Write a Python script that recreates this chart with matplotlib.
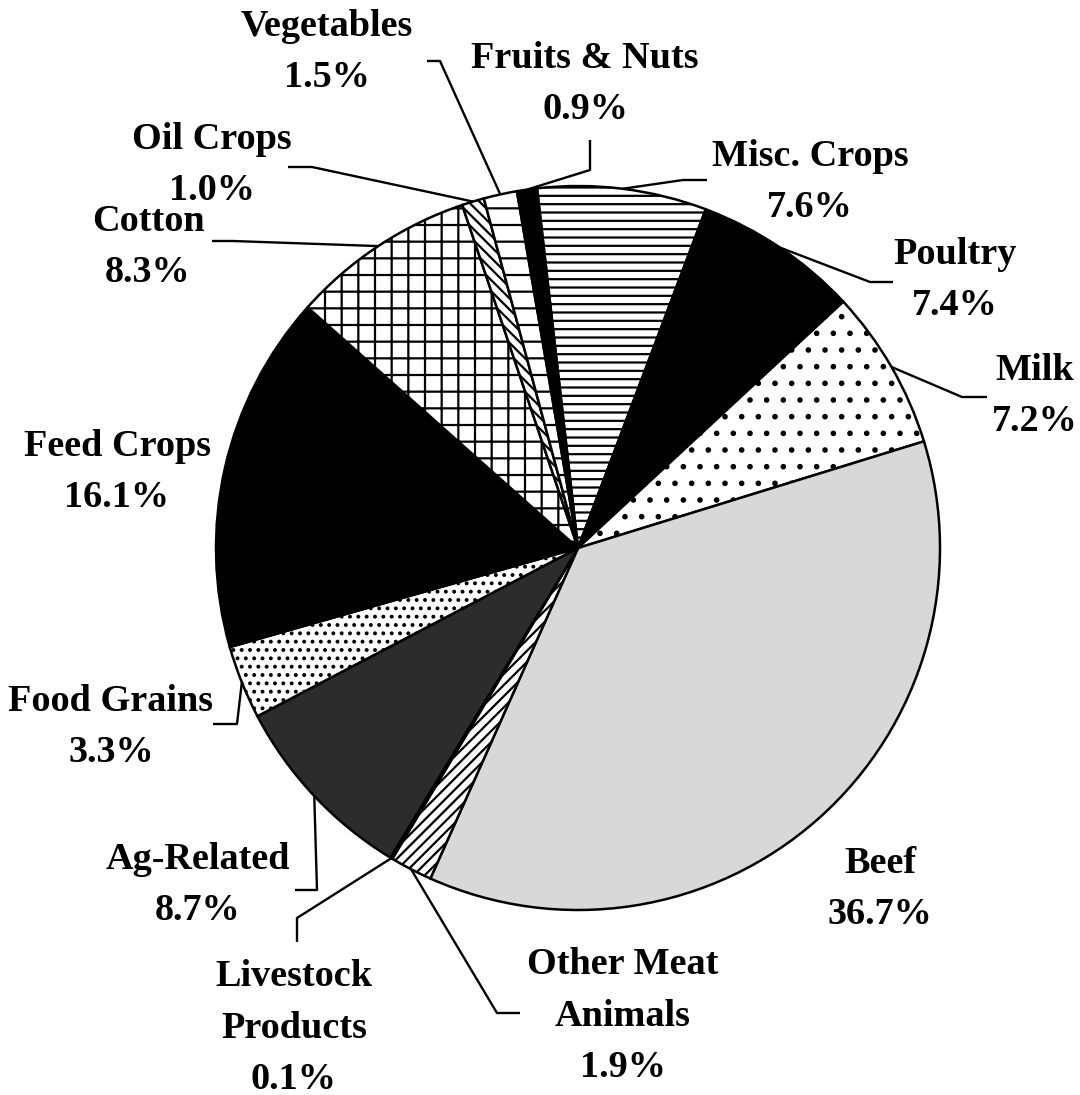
import numpy as np
import matplotlib.pyplot as plt

W, H = 1080, 1095

# slices, clockwise starting at Misc. Crops
categories = ["Misc. Crops", "Poultry", "Milk", "Beef", "Other Meat\nAnimals",
              "Livestock\nProducts", "Ag-Related", "Food Grains", "Feed Crops",
              "Cotton", "Oil Crops", "Vegetables", "Fruits & Nuts"]
shares = [7.6, 7.4, 7.2, 36.7, 1.9, 0.1, 8.7, 3.3, 16.1, 8.3, 1.0, 1.5, 0.9]

fills = ['white', 'black', 'white', '#d8d8d8', 'white', 'white', '#2c2c2c',
         'white', 'black', 'white', 'white', 'white', 'black']
hatches = ['--', None, '.', None, '///', '///', None, '..', None, '+',
           '\\\\\\', '-', None]

# label centres and leader elbows, in pixels from the top-left corner
label_xy = [(810, 182), (955, 280), (1035, 396), (880, 889), (623, 1016),
            (294, 1028), (198, 885), (111, 727), (117, 472), (148, 247),
            (212, 165), (327, 52), (585, 84)]
leaders = [[(707, 180), (683, 180)],
           [(893, 282), (870, 282)],
           [(987, 397), (962, 397)],
           None,
           [(520, 1013), (497, 1013)],
           [(297, 942), (297, 918)],
           [(295, 890), (317, 890)],
           [(213, 724), (237, 724)],
           None,
           [(212, 241), (233, 241)],
           [(288, 167), (312, 167)],
           [(427, 61), (440, 61)],
           [(590, 140), (590, 170)]]

plt.rcParams['hatch.linewidth'] = 1.6
font = dict(family=['Liberation Serif', 'DejaVu Serif'], weight='bold', size=27.5)

fig = plt.figure(figsize=(W / 100, H / 100), dpi=100)
ax = fig.add_axes([0, 0, 1, 1])

cx, cy, r = 578, H - 548, 362
wedges, _ = ax.pie(shares, startangle=96.5, counterclock=False,
                   center=(cx, cy), radius=r,
                   wedgeprops=dict(edgecolor='black', linewidth=1.8))
for w, fc, h in zip(wedges, fills, hatches):
    w.set_facecolor(fc)
    if h:
        w.set_hatch(h)

for w, name, val, (lx, ly), lead in zip(wedges, categories, shares, label_xy, leaders):
    ax.text(lx, H - ly, f"{name}\n{val:.1f}%", ha='center', va='center',
            linespacing=1.6, **font)
    if lead is None:
        continue
    mid = np.deg2rad((w.theta1 + w.theta2) / 2)
    xs = [p[0] for p in lead] + [cx + r * np.cos(mid)]
    ys = [H - p[1] for p in lead] + [cy + r * np.sin(mid)]
    ax.plot(xs, ys, color='black', lw=1.7, solid_capstyle='butt', zorder=5)

ax.set_xlim(0, W)
ax.set_ylim(0, H)
ax.set_aspect('equal')
ax.axis('off')

fig.savefig("out.png", dpi=100, facecolor='white')
